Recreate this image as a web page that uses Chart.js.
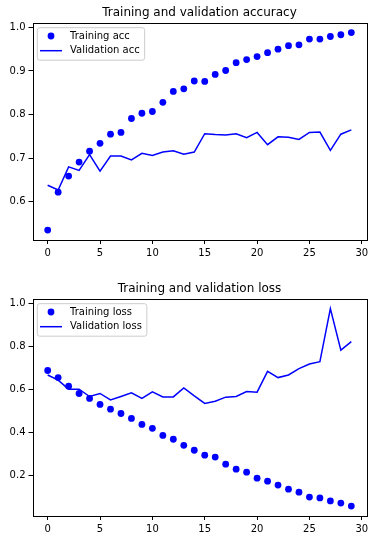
<!DOCTYPE html>
<html>
<head>
<meta charset="utf-8">
<script src="https://cdn.jsdelivr.net/npm/chart.js@4.4.1/dist/chart.umd.min.js"></script>
<style>
  html, body { margin: 0; padding: 0; background: #fff; }
  body { width: 390px; height: 542px; position: relative; overflow: hidden; }
  canvas { position: absolute; left: 0; }
  #c1 { top: 0; }
  #c2 { top: 276px; }
</style>
</head>
<body>
<canvas id="c1" width="390" height="266"></canvas>
<canvas id="c2" width="390" height="266"></canvas>
<script>
const epochs = [0,1,2,3,4,5,6,7,8,9,10,11,12,13,14,15,16,17,18,19,20,21,22,23,24,25,26,27,28,29];
const trainAcc = [0.535,0.622,0.659,0.691,0.716,0.734,0.755,0.759,0.791,0.803,0.807,0.828,0.853,0.859,0.877,0.876,0.892,0.901,0.919,0.926,0.933,0.942,0.950,0.958,0.960,0.973,0.973,0.979,0.983,0.988];
const valAcc = [0.638,0.627,0.680,0.672,0.708,0.670,0.705,0.705,0.696,0.711,0.706,0.714,0.717,0.709,0.714,0.756,0.754,0.753,0.756,0.747,0.759,0.731,0.749,0.748,0.743,0.759,0.760,0.718,0.755,0.765];
const trainLoss = [0.687,0.654,0.614,0.580,0.557,0.529,0.507,0.487,0.464,0.436,0.418,0.385,0.367,0.339,0.316,0.293,0.284,0.251,0.228,0.214,0.186,0.172,0.154,0.135,0.121,0.098,0.094,0.080,0.070,0.056];
const valLoss = [0.666,0.642,0.600,0.600,0.566,0.580,0.550,0.566,0.583,0.557,0.588,0.564,0.564,0.606,0.569,0.534,0.544,0.563,0.566,0.589,0.586,0.683,0.654,0.666,0.696,0.717,0.728,0.975,0.782,0.821];
const xTicks = [0,5,10,15,20,25,30];
const accTicks = [0.6,0.7,0.8,0.9,1.0];
const lossTicks = [0.2,0.4,0.6,0.8,1.0];
const titles = ['Training and validation accuracy', 'Training and validation loss'];
const accLabels = ['Training acc', 'Validation acc'];
const lossLabels = ['Training loss', 'Validation loss'];

Chart.defaults.font.family = '"DejaVu Sans", sans-serif';
Chart.defaults.color = '#000';

const BLUE = '#0000ff';
const PR = 3.4;

function limits(arrs) {
  const all = [].concat(...arrs);
  const mn = Math.min(...all), mx = Math.max(...all);
  const m = (mx - mn) * 0.05;
  return [mn - m, mx + m];
}

const framePlugin = {
  id: 'frame',
  afterDraw(chart) {
    const ca = chart.chartArea, ctx = chart.ctx;
    ctx.save();
    ctx.strokeStyle = '#000';
    ctx.lineWidth = 1;
    ctx.strokeRect(Math.round(ca.left) + 0.5, Math.round(ca.top) + 0.5,
                   Math.round(ca.right) - Math.round(ca.left), Math.round(ca.bottom) - Math.round(ca.top));
    ctx.restore();
  }
};

const legendPlugin = {
  id: 'mplLegend',
  afterDatasetsDraw(chart) {
    const ca = chart.chartArea, ctx = chart.ctx;
    const ds = chart.data.datasets;
    ctx.save();
    ctx.font = '10px "DejaVu Sans", sans-serif';
    const textX = ca.left + 37.5;
    let maxW = 0;
    ds.forEach(d => { maxW = Math.max(maxW, ctx.measureText(d.label).width); });
    const bx = ca.left + 4.8, by = ca.top + 5;
    const bw = textX - bx + maxW + 5, bh = 32.5;
    const r = 2.5;
    ctx.beginPath();
    ctx.moveTo(bx + r, by);
    ctx.lineTo(bx + bw - r, by);
    ctx.arcTo(bx + bw, by, bx + bw, by + r, r);
    ctx.lineTo(bx + bw, by + bh - r);
    ctx.arcTo(bx + bw, by + bh, bx + bw - r, by + bh, r);
    ctx.lineTo(bx + r, by + bh);
    ctx.arcTo(bx, by + bh, bx, by + bh - r, r);
    ctx.lineTo(bx, by + r);
    ctx.arcTo(bx, by, bx + r, by, r);
    ctx.closePath();
    ctx.fillStyle = 'rgba(255,255,255,0.8)';
    ctx.fill();
    ctx.strokeStyle = '#cccccc';
    ctx.lineWidth = 1;
    ctx.stroke();
    const y1 = ca.top + 13.3, y2 = ca.top + 28;
    ctx.fillStyle = BLUE;
    ctx.beginPath();
    ctx.arc(ca.left + 18.5, y1, PR, 0, Math.PI * 2);
    ctx.fill();
    ctx.strokeStyle = BLUE;
    ctx.lineWidth = 1.5;
    ctx.beginPath();
    ctx.moveTo(ca.left + 7.5, y2);
    ctx.lineTo(ca.left + 29.5, y2);
    ctx.stroke();
    ctx.fillStyle = '#000';
    ctx.textBaseline = 'middle';
    ctx.textAlign = 'left';
    ctx.fillText(ds[0].label, textX, y1);
    ctx.fillText(ds[1].label, textX, y2);
    ctx.restore();
  }
};

function makeChart(id, title, labels, train, val, yTicks) {
  const [ymin, ymax] = limits([train, val]);
  const [xmin, xmax] = limits([epochs]);
  return new Chart(document.getElementById(id), {
    type: 'line',
    data: {
      datasets: [
        {
          label: labels[0],
          data: epochs.map((e, i) => ({ x: e, y: train[i] })),
          showLine: false,
          pointRadius: PR,
          pointBackgroundColor: BLUE,
          pointBorderColor: BLUE,
          pointBorderWidth: 0,
          borderColor: BLUE,
          backgroundColor: BLUE
        },
        {
          label: labels[1],
          data: epochs.map((e, i) => ({ x: e, y: val[i] })),
          showLine: true,
          pointRadius: 0,
          borderColor: BLUE,
          borderWidth: 1.5,
          tension: 0,
          fill: false
        }
      ]
    },
    options: {
      responsive: false,
      animation: false,
      events: [],
      layout: { padding: { left: 0, right: 23.5, top: 0, bottom: 0 } },
      plugins: {
        legend: { display: false },
        tooltip: { enabled: false },
        title: {
          display: true,
          fullSize: false,
          text: title,
          color: '#000',
          font: { size: 12, weight: 'normal' },
          padding: { top: 5.5, bottom: 2.8 }
        }
      },
      scales: {
        x: {
          type: 'linear',
          min: xmin,
          max: xmax,
          afterBuildTicks: s => { s.ticks = xTicks.map(v => ({ value: v })); },
          afterFit: s => { s.height = 26; },
          ticks: { font: { size: 10 }, color: '#000', padding: 3, maxRotation: 0, callback: v => String(v) },
          grid: { display: true, drawOnChartArea: false, drawTicks: true, tickLength: 4, color: '#000', lineWidth: 1 },
          border: { display: false }
        },
        y: {
          type: 'linear',
          min: ymin,
          max: ymax,
          afterBuildTicks: s => { s.ticks = yTicks.map(v => ({ value: v })); },
          afterFit: s => { s.width = 32.5; },
          ticks: { font: { size: 10 }, color: '#000', padding: 3, callback: v => v.toFixed(1) },
          grid: { display: true, drawOnChartArea: false, drawTicks: true, tickLength: 4, color: '#000', lineWidth: 1 },
          border: { display: false }
        }
      }
    },
    plugins: [framePlugin, legendPlugin]
  });
}

makeChart('c1', titles[0], accLabels, trainAcc, valAcc, accTicks);
makeChart('c2', titles[1], lossLabels, trainLoss, valLoss, lossTicks);
</script>
</body>
</html>
